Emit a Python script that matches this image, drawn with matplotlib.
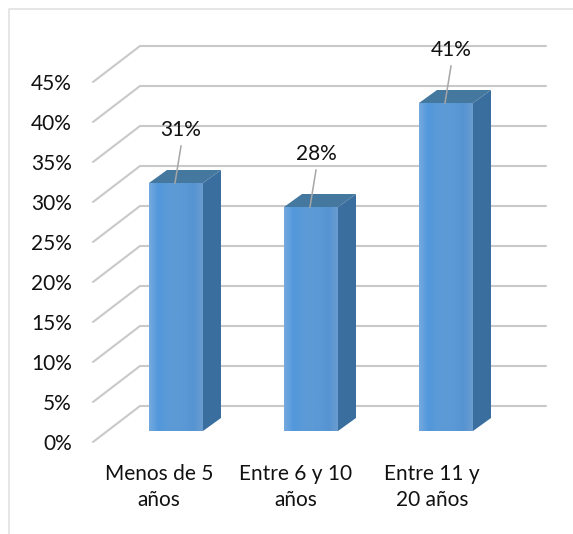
import numpy as np
import matplotlib
matplotlib.use("Agg")
import matplotlib.pyplot as plt
from matplotlib.colors import LinearSegmentedColormap
from matplotlib.patches import Polygon
from matplotlib.lines import Line2D

categories = ["Menos de 5\naños", "Entre 6 y 10\naños", "Entre 11 y\n20 años"]
values = [31, 28, 41]
ticks = [0, 5, 10, 15, 20, 25, 30, 35, 40, 45]

plt.rcParams["font.family"] = ["Lato", "DejaVu Sans"]
W, H = 573, 534
FS = 15
fig = plt.figure(figsize=(W / 100, H / 100), dpi=100, facecolor="white")
ax = fig.add_axes([0, 0, 1, 1])

# one category = 135 px, one percent = 8 px; category 0 centred at x=176, value 0 at y=431
UX, UY = 135.0, 8.0
X0, Y0 = 176.0, 431.0
ax.set_xlim(-X0 / UX, (W - X0) / UX)
ax.set_ylim((Y0 - H) / UY, Y0 / UY)
ax.axis("off")
dx = lambda p: p / UX
dy = lambda p: p / UY

GRID = "#c9c9c9"
BORDER = "#e2e2e2"
TEXT = "#111111"

# chart frame (left and top only), in figure pixels
fig.add_artist(Line2D([8.5 / W, 8.5 / W, 1], [0, 1 - 8.5 / H, 1 - 8.5 / H], color=BORDER, lw=1.2))

# gridlines: side wall + back wall
left_front = dx(93 - X0)
left_back = dx(140 - X0)
right_back = dx(546 - X0)
for t in ticks:
    yf = t + dy(431 - 442)
    yb = t + dy(431 - 406)
    ax.plot([left_front, left_back, right_back], [yf, yb, yb], color=GRID, lw=1.5,
            solid_capstyle="round", solid_joinstyle="miter", zorder=1)
    ax.text(dx(72 - X0), yf - dy(1.5), f"{t}%", ha="right", va="center", fontsize=FS, color=TEXT, zorder=6)

# bars
half = dx(27)
ddx, ddy = dx(18), dy(13)
cmap = LinearSegmentedColormap.from_list(
    "face", ["#74a9de", "#5298dc", "#5a9ad8", "#5d9bd6", "#5a98d6", "#5593d2", "#6a9dd0"])
grad = np.linspace(0, 1, 64).reshape(1, -1)
label_shift = [-17, -15, -14]
for i, v in enumerate(values):
    l, r = i - half, i + half
    side = Polygon([(r, 0), (r + ddx, ddy), (r + ddx, v + ddy), (r, v)], fc="#3a6e9f", ec="none", zorder=3)
    top = Polygon([(l, v), (l + ddx, v + ddy), (r + ddx, v + ddy), (r, v)], fc="#44789f", ec="none", zorder=3)
    ax.add_patch(side)
    ax.add_patch(top)
    ax.imshow(grad, cmap=cmap, extent=(l, r, 0, v), aspect="auto", zorder=4, interpolation="bilinear")
    # leader line and data label
    ax.plot([i - dx(1), i + dx(5)], [v, v + dy(37)], color="#a6a6a6", lw=1.1, zorder=5)
    ax.text(i + dx(5), v + dy(52.5), f"{v}%", ha="center", va="center", fontsize=FS, color=TEXT, zorder=6)
    # category label
    ax.text(i + dx(label_shift[i]), dy(431 - 487), categories[i], ha="center", va="center",
            fontsize=FS, color=TEXT, linespacing=1.4, zorder=6)

ax.set_xlim(-X0 / UX, (W - X0) / UX)
ax.set_ylim((Y0 - H) / UY, Y0 / UY)
fig.savefig("out.png", dpi=100, facecolor="white")
